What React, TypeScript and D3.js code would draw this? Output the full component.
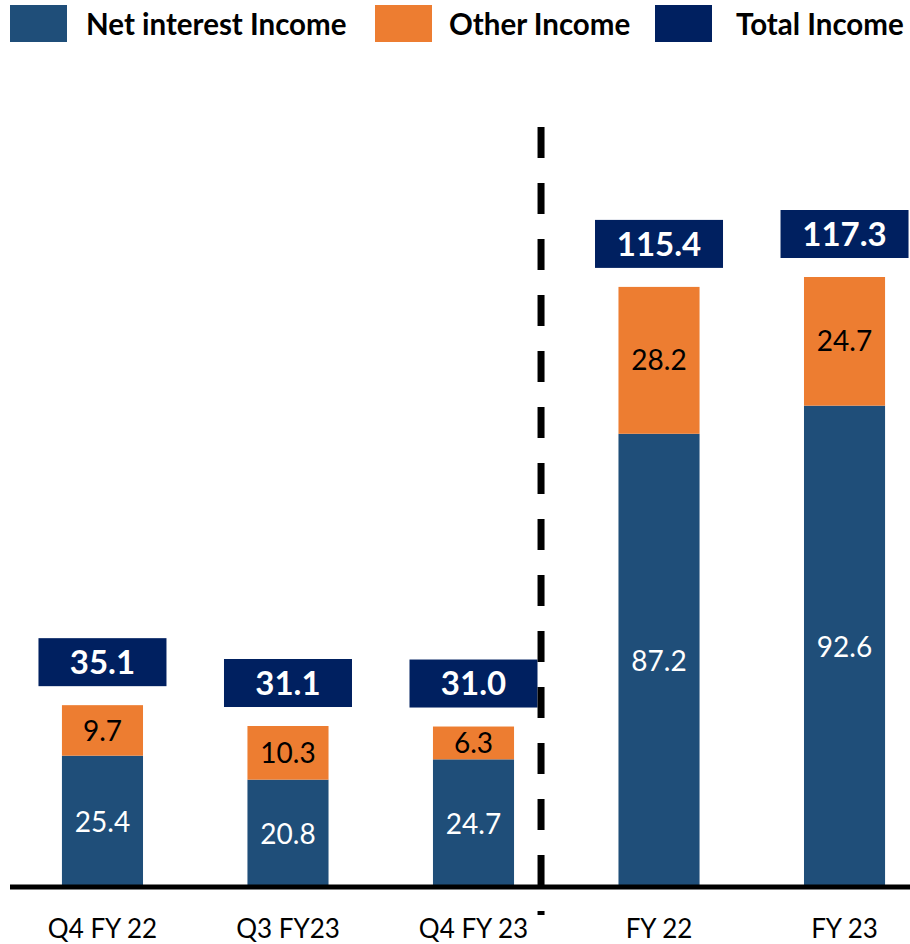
import { useRef, useEffect } from 'react';
import * as d3 from 'd3';

const categories = ['Q4 FY 22', 'Q3 FY23', 'Q4 FY 23', 'FY 22', 'FY 23'];
const netInterest = [25.4, 20.8, 24.7, 87.2, 92.6];
const otherIncome = [9.7, 10.3, 6.3, 28.2, 24.7];
const totalIncome = [35.1, 31.1, 31.0, 115.4, 117.3];

const legendItems = [
  { label: 'Net interest Income', color: '#1F4E79', x: 10, textX: 86 },
  { label: 'Other Income', color: '#ED7D31', x: 375, textX: 449 },
  { label: 'Total Income', color: '#002060', x: 655, textX: 736 },
];

const FONT = "Lato, 'Open Sans', sans-serif";
const WIDTH = 910;
const HEIGHT = 944;

export default function App() {
  const svgRef = useRef<SVGSVGElement>(null);

  useEffect(() => {
    const svg = d3.select(svgRef.current);
    svg.selectAll('*').remove();

    const x = d3
      .scaleBand<string>()
      .domain(categories)
      .range([10, 937])
      .paddingInner(0.563)
      .paddingOuter(0.28);

    const y = d3.scaleLinear().domain([0, 117.3]).range([888, 277]);
    const bw = x.bandwidth();

    const rows = categories.map((c, i) => ({
      cat: c,
      nii: netInterest[i],
      other: otherIncome[i],
      total: totalIncome[i],
    }));

    // Legend
    const legend = svg.append('g');
    legendItems.forEach((item) => {
      legend
        .append('rect')
        .attr('x', item.x)
        .attr('y', 5)
        .attr('width', 57)
        .attr('height', 37)
        .attr('fill', item.color);
      legend
        .append('text')
        .attr('x', item.textX)
        .attr('y', 35)
        .attr('font-family', FONT)
        .attr('font-weight', 'bold')
        .attr('font-size', '29.5px')
        .attr('fill', '#000')
        .text(item.label);
    });

    const g = svg.append('g');

    // Net interest income segments
    g.selectAll('.nii')
      .data(rows)
      .join('rect')
      .attr('x', (d) => x(d.cat)!)
      .attr('y', (d) => y(d.nii))
      .attr('width', bw)
      .attr('height', (d) => y(0) - y(d.nii))
      .attr('fill', '#1F4E79');

    // Other income segments
    g.selectAll('.oth')
      .data(rows)
      .join('rect')
      .attr('x', (d) => x(d.cat)!)
      .attr('y', (d) => y(d.nii + d.other))
      .attr('width', bw)
      .attr('height', (d) => y(d.nii) - y(d.nii + d.other))
      .attr('fill', '#ED7D31');

    // Segment labels
    g.selectAll('.nii-label')
      .data(rows)
      .join('text')
      .attr('x', (d) => x(d.cat)! + bw / 2)
      .attr('y', (d) => (y(0) + y(d.nii)) / 2)
      .attr('dy', '0.36em')
      .attr('text-anchor', 'middle')
      .attr('font-family', FONT)
      .attr('font-size', '28px')
      .attr('fill', '#fff')
      .text((d) => d.nii.toFixed(1));

    g.selectAll('.oth-label')
      .data(rows)
      .join('text')
      .attr('x', (d) => x(d.cat)! + bw / 2)
      .attr('y', (d) => (y(d.nii) + y(d.nii + d.other)) / 2)
      .attr('dy', '0.36em')
      .attr('text-anchor', 'middle')
      .attr('font-family', FONT)
      .attr('font-size', '28px')
      .attr('fill', '#000')
      .text((d) => d.other.toFixed(1));

    // Total boxes
    const boxW = 128;
    const boxH = 48;
    const gap = 19;
    g.selectAll('.tot-box')
      .data(rows)
      .join('rect')
      .attr('x', (d) => x(d.cat)! + bw / 2 - boxW / 2)
      .attr('y', (d) => y(d.total) - gap - boxH)
      .attr('width', boxW)
      .attr('height', boxH)
      .attr('fill', '#002060');

    g.selectAll('.tot-label')
      .data(rows)
      .join('text')
      .attr('x', (d) => x(d.cat)! + bw / 2)
      .attr('y', (d) => y(d.total) - gap - boxH / 2)
      .attr('dy', '0.36em')
      .attr('text-anchor', 'middle')
      .attr('font-family', FONT)
      .attr('font-weight', 'bold')
      .attr('font-size', '33px')
      .attr('fill', '#fff')
      .text((d) => d.total.toFixed(1));

    // Divider between quarters and full years
    const divX = x('Q4 FY 23')! + bw + 27;
    g.append('line')
      .attr('x1', divX)
      .attr('x2', divX)
      .attr('y1', 127)
      .attr('y2', 915)
      .attr('stroke', '#000')
      .attr('stroke-width', 7)
      .attr('stroke-dasharray', '31,25');

    // Baseline
    g.append('line')
      .attr('x1', 10)
      .attr('x2', WIDTH)
      .attr('y1', y(0) - 1)
      .attr('y2', y(0) - 1)
      .attr('stroke', '#000')
      .attr('stroke-width', 5);

    // Category labels
    g.selectAll('.cat-label')
      .data(rows)
      .join('text')
      .attr('x', (d) => x(d.cat)! + bw / 2)
      .attr('y', 938)
      .attr('text-anchor', 'middle')
      .attr('font-family', FONT)
      .attr('font-size', '26px')
      .attr('fill', '#000')
      .text((d) => d.cat);
  }, []);

  return (
    <svg
      ref={svgRef}
      width={WIDTH}
      height={HEIGHT}
      viewBox={`0 0 ${WIDTH} ${HEIGHT}`}
      style={{ position: 'absolute', left: 0, top: 0, background: '#fff' }}
    />
  );
}
